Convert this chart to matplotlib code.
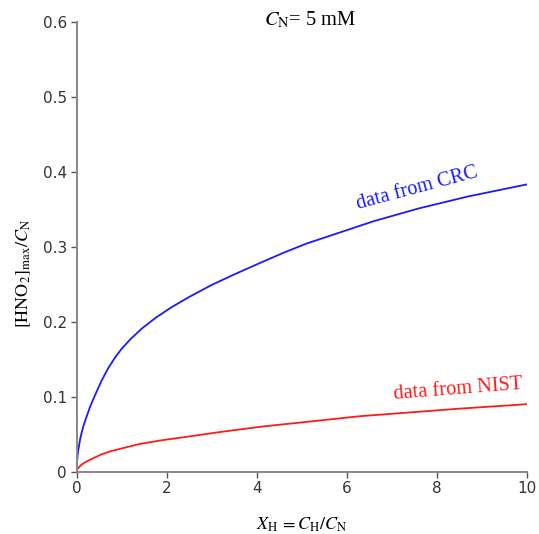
import matplotlib
matplotlib.use('Agg')
import matplotlib.pyplot as plt

plt.rcParams['mathtext.fontset'] = 'stix'

# HNO2 fraction vs acid ratio, C_N = 5 mM
x_crc = [0, 0.005, 0.015, 0.03, 0.05, 0.075, 0.11, 0.15, 0.2, 0.3, 0.4, 0.55,
         0.7, 0.85, 1.0, 1.2, 1.45, 1.75, 2.1, 2.5, 3.0, 3.5, 4.1, 4.6, 5.1,
         5.8, 6.6, 7.6, 8.7, 10]
y_crc = [0, 0.010, 0.018, 0.027, 0.034, 0.043, 0.052, 0.061, 0.070, 0.087,
         0.101, 0.121, 0.138, 0.152, 0.164, 0.177, 0.191, 0.205, 0.219, 0.233,
         0.249, 0.263, 0.279, 0.292, 0.304, 0.318, 0.334, 0.351, 0.367, 0.383]

x_nist = [0, 0.01, 0.04, 0.1, 0.2, 0.37, 0.55, 0.74, 1.0, 1.4, 1.9, 2.5, 3.2,
          4.1, 5.2, 6.3, 7.4, 8.5, 10]
y_nist = [0, 0.003, 0.005, 0.009, 0.013, 0.018, 0.023, 0.027, 0.031, 0.037,
          0.042, 0.047, 0.053, 0.060, 0.067, 0.074, 0.079, 0.084, 0.090]

x_ticks = [0, 2, 4, 6, 8, 10]
y_ticks = [0, 0.1, 0.2, 0.3, 0.4, 0.5, 0.6]
y_ticklabels = ['0', '0.1', '0.2', '0.3', '0.4', '0.5', '0.6']

fig = plt.figure(figsize=(5.39, 5.34), dpi=100)
ax = fig.add_axes([0.1423, 0.1167, 0.8349, 0.8427])

ax.plot(x_crc, y_crc, color='#1a1aff', lw=1.3)
ax.plot(x_nist, y_nist, color='#ff1a1a', lw=1.3)

ax.set_xlim(0, 10)
ax.set_ylim(0, 0.6)
ax.set_xticks(x_ticks)
ax.set_yticks(y_ticks)
ax.set_yticklabels(y_ticklabels)

for side in ['top', 'right']:
    ax.spines[side].set_visible(False)
for side in ['left', 'bottom']:
    ax.spines[side].set_color('#888888')
    ax.spines[side].set_linewidth(1.4)
ax.tick_params(direction='out', length=4, width=1, color='#555555',
               labelcolor='#333333', labelsize=11, pad=3)

ax.text(7.56, 0.378, 'data from CRC', color='#1a1aff', rotation=15,
        ha='center', va='center', family='Liberation Serif', fontsize=14.7)
ax.text(8.47, 0.109, 'data from NIST', color='#ff1a1a', rotation=4.5,
        ha='center', va='center', family='Liberation Serif', fontsize=14.7)

fig.text(0.575, 0.963, r'$C_{\mathrm{N}}$= 5 mM', ha='center', va='center',
         family='Liberation Serif', fontsize=14.8)
ax.set_xlabel(r'$X_{\mathrm{H}}\, = C_{\mathrm{H}}/C_{\mathrm{N}}$', fontsize=13, labelpad=14)
ax.set_ylabel(r'$[\mathrm{HNO}_2]_{\mathrm{max}}/C_{\mathrm{N}}$', fontsize=13)
ax.yaxis.set_label_coords(-0.098, 0.44)

fig.savefig('out.png', dpi=100)
